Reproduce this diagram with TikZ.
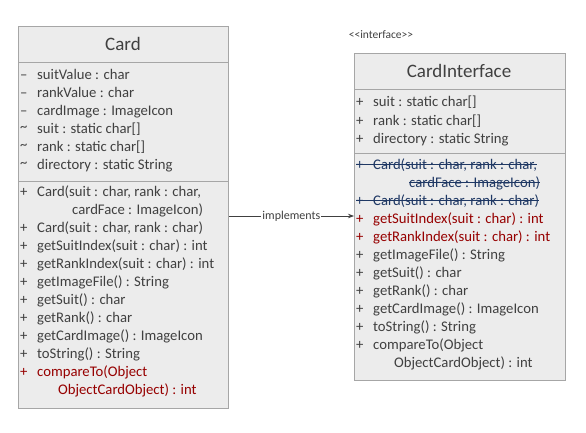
\documentclass[tikz,border=0pt]{standalone}
\usepackage{fontspec}
\setmainfont{Carlito}
\usetikzlibrary{arrows.meta,calc}
\definecolor{boxfill}{RGB}{236,236,236}
\definecolor{boxline}{RGB}{166,166,166}
\definecolor{txt}{RGB}{64,64,64}
\definecolor{methred}{RGB}{150,0,0}
\definecolor{navy}{RGB}{31,56,100}
\newcommand\vis[1]{\makebox[17pt][l]{#1}}
\newcommand\pkg{\raisebox{2pt}{\textasciitilde}}
\tikzset{
    classbox/.style={draw=boxline,fill=boxfill,line width=0.8pt,anchor=north west,inner sep=0pt},
    divider/.style={draw=boxline,line width=0.8pt},
    member/.style={anchor=base west,inner sep=0pt,text=txt,font=\fontsize{14.7}{18}\selectfont},
    plain/.style={member},
    changed/.style={member,text=methred},
    removed/.style={member,text=navy},
    strike/.style={draw=navy,line width=0.9pt},
    classname/.style={text=txt,font=\fontsize{19}{22}\selectfont},
    impl/.style={draw=txt,line width=0.8pt,-{Stealth[length=6pt,width=4.5pt]}}
}
\begin{document}
\begin{tikzpicture}[x=1pt,y=-1pt]
    \useasboundingbox (0,0) rectangle (586,433);

    % class boxes
    \node[classbox,minimum width=210pt,minimum height=382pt] (cardbox) at (18,26) {};
    \node[classbox,minimum width=211pt,minimum height=327pt] (ifacebox) at (354,53) {};
    \draw[divider] (18,62) -- (228,62);
    \draw[divider] (18,181) -- (228,181);
    \draw[divider] (354,89) -- (565,89);
    \draw[divider] (354,153) -- (565,153);

    \node[classname] (card) at (123,44) {Card};
    \node[classname] (iface) at (459,71) {CardInterface};
    \node[text=txt,font=\fontsize{11.5}{13}\selectfont] (stereo) at (381,35) {{<}{<}interface{>}{>}};

    % Card members
    \foreach \s/\t [count=\i] in {
        plain/{\vis{--}suitValue : char},
        plain/{\vis{--}rankValue : char},
        plain/{\vis{--}cardImage : ImageIcon},
        plain/{\vis{\pkg}suit : static char[]},
        plain/{\vis{\pkg}rank : static char[]},
        plain/{\vis{\pkg}directory : static String}}
        \node[\s] (ca\i) at (20,{61.5+18*\i}) {\t};

    \foreach \s/\t [count=\i] in {
        plain/{\vis{+}Card(suit : char, rank : char,},
        plain/{\hspace*{52pt}cardFace : ImageIcon)},
        plain/{\vis{+}Card(suit : char, rank : char)},
        plain/{\vis{+}getSuitIndex(suit : char) : int},
        plain/{\vis{+}getRankIndex(suit : char) : int},
        plain/{\vis{+}getImageFile() : String},
        plain/{\vis{+}getSuit() : char},
        plain/{\vis{+}getRank() : char},
        plain/{\vis{+}getCardImage() : ImageIcon},
        plain/{\vis{+}toString() : String},
        changed/{\vis{+}compareTo(Object},
        changed/{\hspace*{38pt}ObjectCardObject) : int}}
        \node[\s] (cm\i) at (20,{178+18*\i}) {\t};

    % CardInterface members
    \foreach \s/\t [count=\i] in {
        plain/{\vis{+}suit : static char[]},
        plain/{\vis{+}rank : static char[]},
        plain/{\vis{+}directory : static String}}
        \node[\s] (ia\i) at (356,{89+18*\i}) {\t};

    \foreach \s/\t [count=\i] in {
        removed/{\vis{+}Card(suit : char, rank : char,},
        removed/{\hspace*{53pt}cardFace : ImageIcon)},
        removed/{\vis{+}Card(suit : char, rank : char)},
        changed/{\vis{+}getSuitIndex(suit : char) : int},
        changed/{\vis{+}getRankIndex(suit : char) : int},
        plain/{\vis{+}getImageFile() : String},
        plain/{\vis{+}getSuit() : char},
        plain/{\vis{+}getRank() : char},
        plain/{\vis{+}getCardImage() : ImageIcon},
        plain/{\vis{+}toString() : String},
        plain/{\vis{+}compareTo(Object},
        plain/{\hspace*{38pt}ObjectCardObject) : int}}
        \node[\s] (im\i) at (356,{151+18*\i}) {\t};

    % struck members
    \foreach \n in {im1,im3}
        \draw[strike] ($(\n.base west)+(0,-4.5)$) -- ($(\n.base east)+(0,-4.5)$);
    \draw[strike] ($(im2.base west)+(53,-4.5)$) -- ($(im2.base east)+(0,-4.5)$);

    % realization
    \coordinate (arrowy) at (0,216);
    \draw[impl] (cardbox.east |- arrowy) -- (ifacebox.west |- arrowy)
        node[midway,fill=white,inner sep=1pt,text=txt,font=\fontsize{12}{14}\selectfont] (implabel) {implements};
\end{tikzpicture}
\end{document}
